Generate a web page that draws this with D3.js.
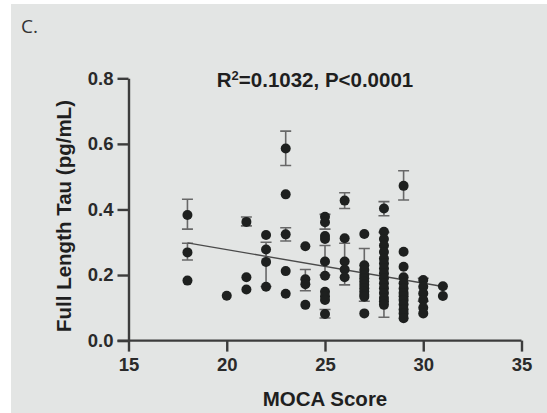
<!DOCTYPE html>
<html>
<head>
<meta charset="utf-8">
<script src="https://cdn.jsdelivr.net/npm/d3@7"></script>
<style>
  html, body { margin: 0; padding: 0; background: #ffffff; }
  svg { display: block; }
</style>
</head>
<body>
<div id="container"></div>
<script>
// MOCA score vs full length tau, one row per subject
const pointMoca = [
  18, 18, 18,
  20,
  21, 21, 21,
  22, 22, 22, 22,
  23, 23, 23, 23, 23,
  24, 24, 24, 24,
  25, 25, 25, 25, 25, 25, 25, 25, 25, 25,
  26, 26, 26, 26, 26,
  27, 27, 27, 27, 27, 27, 27, 27, 27, 27, 27, 27,
  28, 28, 28, 28, 28, 28, 28, 28, 28, 28, 28, 28, 28, 28, 28, 28,
  29, 29, 29, 29, 29, 29, 29, 29, 29, 29, 29, 29, 29,
  30, 30, 30, 30, 30, 30,
  31, 31
];
const pointTau = [
  0.383, 0.269, 0.183,
  0.137,
  0.362, 0.193, 0.156,
  0.322, 0.278, 0.240, 0.164,
  0.586, 0.446, 0.324, 0.212, 0.143,
  0.288, 0.187, 0.172, 0.109,
  0.378, 0.361, 0.319, 0.310, 0.241, 0.198, 0.149, 0.135, 0.124, 0.081,
  0.427, 0.312, 0.241, 0.217, 0.193,
  0.325, 0.230, 0.215, 0.200, 0.190, 0.180, 0.170, 0.160, 0.150, 0.140, 0.134, 0.083,
  0.403, 0.332, 0.310, 0.290, 0.270, 0.250, 0.235, 0.220, 0.205, 0.190, 0.175, 0.160, 0.145, 0.130, 0.120, 0.109,
  0.472, 0.271, 0.225, 0.193, 0.175, 0.159, 0.145, 0.135, 0.124, 0.110, 0.095, 0.083, 0.068,
  0.185, 0.164, 0.144, 0.124, 0.100, 0.083,
  0.166, 0.136
];

// error bars (repeated measures)
const errMoca = [18, 18, 21, 22, 23, 23, 24, 25, 25, 25, 26, 26, 27, 28, 28, 29, 30];
const errLow  = [0.340, 0.246, 0.350, 0.165, 0.534, 0.304, 0.152, 0.340, 0.200, 0.069, 0.403, 0.170, 0.120, 0.381, 0.071, 0.429, 0.120];
const errHigh = [0.431, 0.297, 0.377, 0.300, 0.639, 0.344, 0.217, 0.385, 0.290, 0.095, 0.451, 0.297, 0.281, 0.424, 0.330, 0.518, 0.190];

// linear fit endpoints
const fitMoca = [18, 31];
const fitTau = [0.298, 0.165];

const xTicks = [15, 20, 25, 30, 35];
const yTicks = [0, 0.2, 0.4, 0.6, 0.8];

const width = 547;
const height = 413;
const axisColor = '#3c3c3c';
const dotColor = '#1e201f';
const font = '"Liberation Sans", Arial, sans-serif';

const svg = d3.select('#container').append('svg')
  .attr('width', width)
  .attr('height', height);

//>>> gray panel
svg.append('rect')
  .attr('x', 11).attr('y', 4)
  .attr('width', width - 11).attr('height', height - 4)
  .attr('fill', '#e3e5e4');

svg.append('text')
  .attr('x', 21).attr('y', 33)
  .attr('font-family', '"Open Sans", sans-serif')
  .attr('font-size', 19)
  .attr('fill', '#333333')
  .text('C.');

const x = d3.scaleLinear().domain([15, 35]).range([128.5, 521.5]);
const y = d3.scaleLinear().domain([0, 0.8]).range([340.6, 78.3]);

//>>> axes
const xAxis = svg.append('g')
  .attr('transform', `translate(0,${y(0)})`)
  .call(d3.axisBottom(x).tickValues(xTicks).tickSize(11).tickPadding(6).tickSizeOuter(0));

const yAxis = svg.append('g')
  .attr('transform', `translate(${x(15)},0)`)
  .call(d3.axisLeft(y).tickValues(yTicks).tickSize(11).tickPadding(4).tickSizeOuter(0)
    .tickFormat(d3.format('.1f')));

[xAxis, yAxis].forEach(g => {
  g.select('.domain').attr('stroke', axisColor).attr('stroke-width', 2.4);
  g.selectAll('.tick line').attr('stroke', axisColor).attr('stroke-width', 2.4);
  g.selectAll('text')
    .attr('font-family', font)
    .attr('font-weight', 'bold')
    .attr('font-size', 18.5)
    .attr('fill', '#2a2a2a');
});
// extend x domain line to the 0.0 tick
xAxis.select('.domain').attr('d', `M${x(15) - 11},0H${x(35)}`);

//>>> error bars
const errData = errMoca.map((m, i) => ({ m, lo: errLow[i], hi: errHigh[i] }));
const errG = svg.append('g')
  .attr('stroke', '#686868')
  .attr('stroke-width', 1.6)
  .attr('fill', 'none');
errG.selectAll('path')
  .data(errData)
  .enter().append('path')
  .attr('d', d => {
    const cx = x(d.m);
    return `M${cx},${y(d.hi)}V${y(d.lo)}` +
      `M${cx - 5.5},${y(d.hi)}H${cx + 5.5}` +
      `M${cx - 5.5},${y(d.lo)}H${cx + 5.5}`;
  });

//>>> regression line
svg.append('line')
  .attr('x1', x(fitMoca[0])).attr('y1', y(fitTau[0]))
  .attr('x2', x(fitMoca[1])).attr('y2', y(fitTau[1]))
  .attr('stroke', '#4a4a4a')
  .attr('stroke-width', 1.3);

//>>> points
svg.append('g')
  .selectAll('circle')
  .data(pointMoca.map((m, i) => ({ m, t: pointTau[i] })))
  .enter().append('circle')
  .attr('cx', d => x(d.m))
  .attr('cy', d => y(d.t))
  .attr('r', 5)
  .attr('fill', dotColor);

//>>> titles
const title = svg.append('text')
  .attr('x', 315).attr('y', 87)
  .attr('text-anchor', 'middle')
  .attr('font-family', font)
  .attr('font-weight', 'bold')
  .attr('font-size', 20.5)
  .attr('fill', '#1f1f1f');
title.append('tspan').text('R');
title.append('tspan').attr('font-size', 13).attr('dy', -7.5).text('2');
title.append('tspan').attr('dy', 7.5).text('=0.1032, P<0.0001');

svg.append('text')
  .attr('x', 325).attr('y', 406)
  .attr('text-anchor', 'middle')
  .attr('font-family', font)
  .attr('font-weight', 'bold')
  .attr('font-size', 20.5)
  .attr('fill', '#1f1f1f')
  .text('MOCA Score');

svg.append('text')
  .attr('transform', 'translate(71,216) rotate(-90)')
  .attr('text-anchor', 'middle')
  .attr('font-family', font)
  .attr('font-weight', 'bold')
  .attr('font-size', 20.5)
  .attr('fill', '#1f1f1f')
  .text('Full Length Tau (pg/mL)');
</script>
</body>
</html>
